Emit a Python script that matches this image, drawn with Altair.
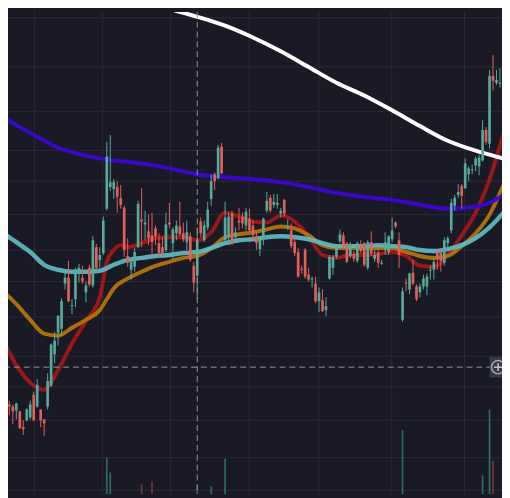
import altair as alt
import pandas as pd

BG = "#1a1a26"
GRID = "#2a2a38"
UP = "#5aa99b"
DOWN = "#e0605b"
VOL_UP = "#2e6c67"
VOL_DOWN = "#74383f"

# ---- candles (price units) ----
opens = [99, 87, 93, 91, 87, 86, 70, 77, 80, 103,
         91, 88, 78, 91, 112, 144, 166, 170, 216, 222,
         193, 200, 228, 222, 207, 232, 214, 253, 240, 247,
         292, 314, 312, 314, 303, 293, 244, 230, 233, 253,
         281, 276, 269, 265, 272, 257, 253, 250, 278, 257,
         267, 274, 267, 258, 264, 234, 224, 279, 260, 273,
         302, 327, 323, 355, 260, 263, 287, 263, 280, 284,
         275, 282, 275, 264, 251, 260, 290, 303, 296, 296,
         287, 301, 273, 270, 258, 248, 231, 250, 225, 220,
         216, 198, 199, 189, 221, 232, 243, 259, 265, 257,
         244, 246, 239, 255, 257, 232, 258, 241, 247, 236,
         250, 248, 261, 278, 260, 179, 217, 210, 227, 213,
         207, 213, 213, 229, 230, 248, 247, 237, 257, 270,
         295, 306, 315, 313, 327, 331, 336, 335, 341, 372,
         358, 427, 420, 419]
closes = [92, 90, 91, 86, 94, 69, 68, 88, 93, 77,
          113, 77, 74, 117, 154, 158, 183, 198, 222, 198,
          194, 229, 232, 218, 214, 215, 260, 232, 245, 280,
          345, 319, 319, 304, 296, 250, 237, 238, 248, 297,
          279, 278, 262, 258, 264, 247, 247, 276, 276, 271,
          275, 266, 261, 268, 240, 217, 260, 267, 275, 291,
          320, 320, 354, 328, 283, 284, 258, 268, 278, 277,
          289, 270, 265, 257, 261, 282, 300, 290, 299, 298,
          290, 287, 274, 254, 247, 223, 230, 223, 220, 221,
          198, 207, 188, 193, 243, 243, 253, 266, 254, 238,
          256, 241, 257, 249, 235, 258, 247, 245, 237, 237,
          258, 264, 270, 274, 245, 208, 216, 226, 216, 200,
          213, 221, 223, 230, 238, 241, 239, 260, 262, 298,
          303, 309, 305, 338, 333, 332, 343, 344, 372, 360,
          427, 422, 423, 420]
highs = [105, 105, 97, 93, 95, 87, 77, 89, 97, 106,
         119, 88, 78, 125, 155, 167, 184, 201, 228, 239,
         200, 232, 236, 234, 218, 235, 264, 256, 253, 284,
         360, 367, 322, 320, 316, 295, 262, 242, 252, 300,
         313, 290, 286, 288, 275, 267, 263, 288, 298, 273,
         280, 299, 278, 280, 268, 238, 273, 283, 280, 299,
         327, 329, 357, 359, 299, 288, 290, 273, 293, 288,
         293, 292, 280, 268, 264, 283, 309, 306, 307, 307,
         293, 302, 281, 277, 264, 252, 234, 252, 232, 223,
         223, 212, 210, 202, 245, 245, 255, 271, 268, 258,
         258, 249, 259, 260, 258, 260, 269, 250, 250, 240,
         268, 265, 283, 279, 268, 212, 221, 227, 240, 215,
         216, 225, 226, 234, 242, 251, 252, 263, 264, 302,
         306, 317, 317, 343, 335, 337, 345, 347, 382, 375,
         433, 448, 433, 435]
lows = [86, 83, 82, 73, 78, 68, 62, 76, 78, 76,
        90, 70, 61, 88, 111, 135, 153, 163, 210, 197,
        185, 192, 217, 216, 197, 213, 212, 230, 232, 245,
        290, 310, 302, 288, 292, 243, 233, 220, 228, 252,
        253, 260, 255, 244, 255, 243, 242, 248, 272, 240,
        260, 264, 258, 250, 238, 207, 200, 263, 258, 270,
        295, 311, 322, 327, 258, 255, 255, 260, 270, 272,
        270, 268, 260, 250, 244, 255, 288, 288, 293, 292,
        283, 284, 270, 252, 244, 222, 226, 221, 218, 212,
        196, 187, 187, 183, 220, 225, 241, 257, 252, 237,
        242, 238, 237, 247, 233, 230, 244, 238, 232, 235,
        245, 245, 258, 272, 232, 177, 208, 205, 214, 198,
        202, 210, 204, 220, 220, 230, 228, 234, 252, 267,
        290, 303, 292, 312, 320, 327, 330, 326, 340, 357,
        353, 412, 418, 415]

# ---- volume (only the bars tall enough to show) ----
vol_index = [30, 31, 40, 43, 56, 60, 64, 115, 138, 140, 141]
vol_value = [37, 22, 10, 13, 9, 8, 36, 65, 19, 86, 34]

# ---- moving averages, sampled at candle indices ----
ma_cyan_i = [-1, 0, 4, 8, 12, 16, 20, 24, 28, 32, 36, 40, 44, 48, 52, 56, 60, 64, 68, 72,
             76, 80, 84, 88, 92, 96, 100, 104, 108, 112, 116, 120, 124, 128, 132, 136, 140, 144]
ma_cyan_v = [271, 268, 258, 248, 235, 230, 228, 228, 229, 235, 240, 242, 244, 245, 247, 248, 252, 257, 260, 261,
             263, 264, 263, 261, 257, 254, 254, 254, 255, 254, 253, 250, 249, 251, 255, 262, 273, 288]

ma_orange_i = [-1, 0, 4, 8, 12, 16, 20, 24, 28, 30, 32, 36, 40, 44, 48, 52, 56, 60, 64, 68, 72,
               76, 80, 84, 88, 92, 96, 100, 104, 108, 112, 116, 120, 124, 128, 132, 136, 140, 144]
ma_orange_v = [210, 208, 195, 179, 165, 163, 171, 179, 189, 200, 211, 221, 228, 234, 238, 242, 244, 252, 263, 266, 268,
               271, 274, 272, 265, 255, 252, 252, 252, 252, 252, 248, 244, 242, 244, 254, 267, 286, 316]

ma_red_i = [-1, 0, 4, 8, 12, 16, 20, 24, 28, 30, 32, 34, 36, 40, 44, 48, 52, 56, 60, 64, 68, 72,
            76, 80, 84, 88, 92, 96, 100, 104, 108, 112, 116, 120, 124, 128, 132, 136, 140, 144]
ma_red_v = [159, 157, 133, 115, 108, 128, 155, 178, 202, 238, 250, 255, 253, 257, 262, 263, 263, 260, 268, 288, 284, 279,
            278, 285, 279, 264, 245, 242, 245, 245, 246, 248, 244, 234, 233, 245, 265, 288, 322, 368]

ma_purple_i = [-1, 0, 8, 16, 24, 32, 40, 48, 56, 64, 72, 80, 88, 96, 104, 112, 120, 128, 136, 140, 144]
ma_purple_v = [387, 385, 369, 354, 346, 341, 338, 333, 327, 324, 322, 319, 314, 308, 304, 301, 296, 292, 294, 298, 306]

ma_white_i = [40, 42, 48, 56, 64, 72, 80, 88, 96, 104, 112, 120, 128, 136, 140, 144]
ma_white_v = [504, 501, 495, 487, 478, 466, 452, 436, 420, 407, 392, 376, 361, 351, 347, 343]

# ---- grid and crosshair ----
grid_prices = [486, 436, 391, 351, 320, 286, 250, 218, 182, 142, 111, 77, 39, 6]
grid_index = [9.25, 28.8, 48.3, 70.9, 91.0, 111.9, 132.8]
cross_index = 56
cross_price = 131

W, H = 502, 490

candles = pd.DataFrame({"i": list(range(len(opens))), "open": opens, "close": closes,
                        "high": highs, "low": lows})
candles["dir"] = ["up" if c >= o else "down" for o, c in zip(opens, closes)]
vol = pd.DataFrame({"i": vol_index, "v": vol_value,
                    "dir": [candles["dir"][k] for k in vol_index]})

# visible window (the page margin hides nothing; the view starts 8px in)
xs = alt.Scale(domain=[1.61, 143.58], nice=False, zero=False)
ys = alt.Scale(domain=[2, 492], nice=False, zero=False)
cs = alt.Scale(domain=["up", "down"], range=[UP, DOWN])
vcs = alt.Scale(domain=["up", "down"], range=[VOL_UP, VOL_DOWN])

X = lambda f: alt.X(f, type="quantitative", scale=xs, axis=None)
Y = lambda f: alt.Y(f, type="quantitative", scale=ys, axis=None)

hgrid = alt.Chart(pd.DataFrame({"p": grid_prices})).mark_rule(color=GRID, strokeWidth=1).encode(y=Y("p"))
vgrid = alt.Chart(pd.DataFrame({"i": grid_index})).mark_rule(color=GRID, strokeWidth=1).encode(x=X("i"))

volume = alt.Chart(vol).mark_rule(strokeWidth=1.7).encode(
    x=X("i"),
    y=alt.Y("v:Q", scale=alt.Scale(domain=[0, 490], nice=False, zero=True), axis=None),
    y2=alt.Y2(datum=0),
    color=alt.Color("dir:N", scale=vcs, legend=None),
)


def ma(idx, vals, color, width=4.0, opacity=0.92):
    return alt.Chart(pd.DataFrame({"i": idx, "v": vals})).mark_line(
        color=color, strokeWidth=width, opacity=opacity, interpolate="monotone", clip=True
    ).encode(x=X("i"), y=Y("v"))


lines = [
    ma(ma_red_i, ma_red_v, "#a51717"),
    ma(ma_orange_i, ma_orange_v, "#b97409"),
    ma(ma_cyan_i, ma_cyan_v, "#5ebcc1", 4.5),
    ma(ma_purple_i, ma_purple_v, "#3d06d4"),
    ma(ma_white_i, ma_white_v, "#ffffff", 4.0, 1.0),
]

wicks = alt.Chart(candles).mark_rule(strokeWidth=1, clip=True).encode(
    x=X("i"), y=Y("low"), y2="high", color=alt.Color("dir:N", scale=cs, legend=None))
bodies = alt.Chart(candles).mark_rule(strokeWidth=2.7, clip=True).encode(
    x=X("i"), y=Y("open"), y2="close", color=alt.Color("dir:N", scale=cs, legend=None))

cross_v = alt.Chart(pd.DataFrame({"i": [cross_index]})).mark_rule(
    color="#9598a1", strokeWidth=1, strokeDash=[6, 4]).encode(x=X("i"))
cross_h = alt.Chart(pd.DataFrame({"p": [cross_price]})).mark_rule(
    color="#9598a1", strokeWidth=1, strokeDash=[6, 4]).encode(y=Y("p"))

cp = pd.DataFrame({"p": [cross_price]})
btn_box = alt.Chart(cp).mark_point(
    shape="M-1,-1H1V1H-1Z", size=441, filled=True, fill="#363a45", opacity=1, strokeWidth=0
).encode(x=alt.value(W - 2), y=Y("p"))
btn_circle = alt.Chart(cp).mark_point(
    shape="circle", size=180, filled=False, stroke="#d1d4dc", strokeWidth=1.6
).encode(x=alt.value(W - 4), y=Y("p"))
btn_plus = alt.Chart(cp).mark_point(
    shape="M-1,0H1M0,-1V1", size=64, filled=False, stroke="#ffffff", strokeWidth=1.5
).encode(x=alt.value(W - 4), y=Y("p"))

chart = alt.layer(
    hgrid, vgrid, volume, *lines, wicks, bodies, cross_v, cross_h, btn_box, btn_circle, btn_plus
).resolve_scale(y="independent", color="independent").properties(
    width=W, height=H, background=BG, padding=0,
    autosize=alt.AutoSizeParams(type="none"),
).configure_view(stroke=None, fill=BG)

chart.save("out.html", embed_options={"renderer": "svg", "actions": False})
